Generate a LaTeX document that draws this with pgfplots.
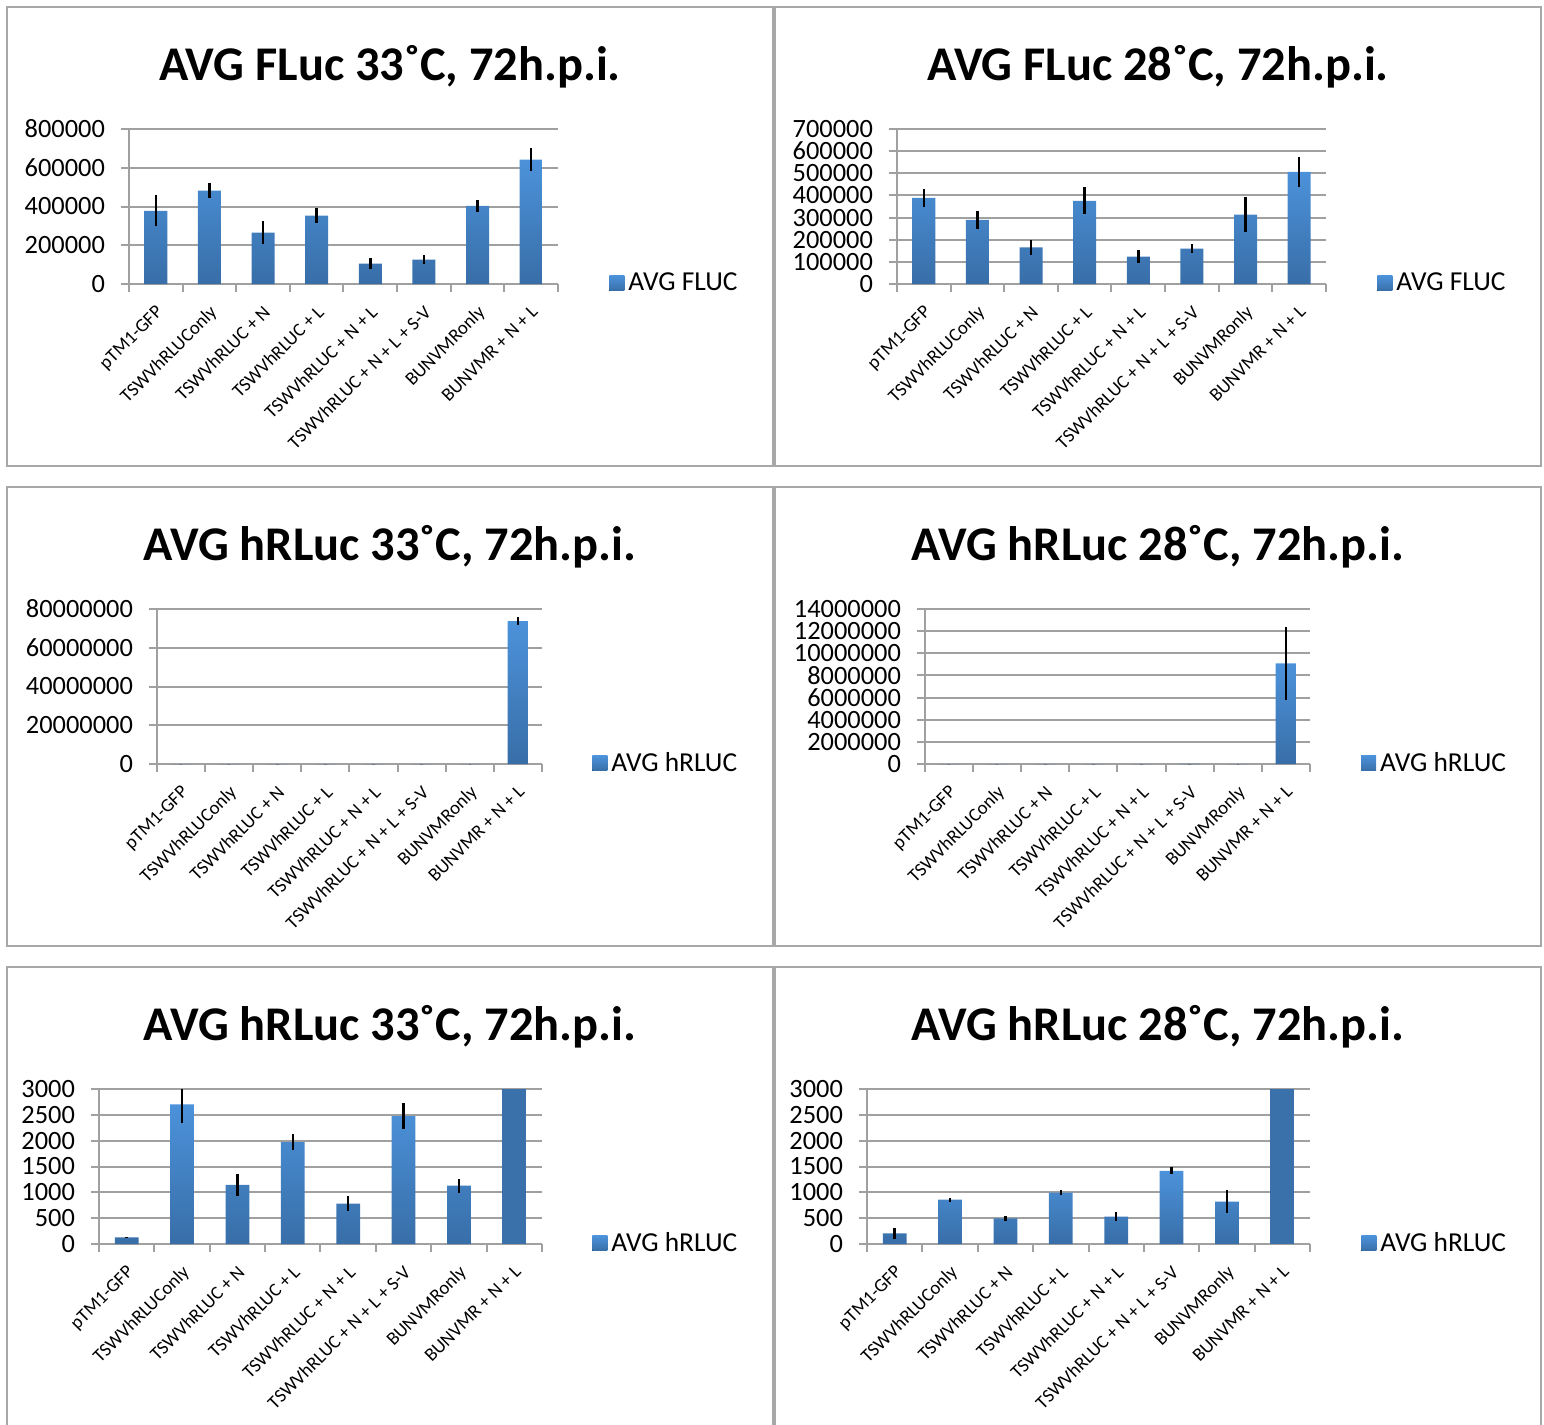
\documentclass[border=0pt]{standalone}
\usepackage{pgfplots}
\pgfplotsset{compat=1.18}
\usepackage{pgfplotstable}
\usepackage{fontspec}
\setmainfont{Carlito}
\definecolor{bartop}{RGB}{76,146,218}
\definecolor{barbot}{RGB}{56,110,168}
\definecolor{bardark}{RGB}{58,113,170}
\definecolor{gridgray}{RGB}{160,160,160}
\definecolor{boxgray}{RGB}{168,168,168}

\pgfplotstableread{
x y e
0 378000 80000
1 482000 38000
2 265000 58000
3 353000 40000
4 105000 27000
5 126000 22000
6 403000 33000
7 642000 60000
}\fA
\pgfplotstableread{
x y e
0 389000 40000
1 290000 40000
2 165000 32000
3 375000 61000
4 124000 28000
5 160000 21000
6 313000 78000
7 506000 67000
}\fB
\pgfplotstableread{
x y e
0 128 15
1 2705 360
2 1147 215
3 1974 150
4 782 150
5 2474 250
6 1128 140
7 73800000 2000000
}\rA
\pgfplotstableread{
x y e
0 205 100
1 859 40
2 494 45
3 994 50
4 532 95
5 1417 65
6 821 230
7 9100000 3300000
}\rB

\pgfplotsset{
 panel/.style={
  scale only axis,
  anchor=south west,
  xmin=-0.5, xmax=7.5, ymin=0,
  axis x line=bottom, axis y line=left,
  axis line style={-, gridgray, line width=1pt},
  x axis line style={-}, y axis line style={-},
  ymajorgrids, grid style={gridgray, line width=1pt},
  tick align=outside,
  major tick length=4pt,
  tick style={gridgray, line width=1pt},
  xtick={-0.5,0.5,1.5,2.5,3.5,4.5,5.5,6.5,7.5}, xticklabels={},
  extra x ticks={0,1,2,3,4,5,6,7},
  extra x tick labels={pTM1-GFP, TSWVhRLUConly, TSWVhRLUC + N, TSWVhRLUC + L, TSWVhRLUC + N + L, TSWVhRLUC + N + L + S-V, BUNVMRonly, BUNVMR + N + L},
  extra x tick style={major tick length=0pt, tick label style={yshift=-8.5pt, xshift=-0.5pt, rotate=45, anchor=north east, font=\fontsize{9.4}{11}\selectfont, inner sep=1pt}},
  yticklabel style={font=\fontsize{13.2}{15}\selectfont, xshift=-4.5pt},
  /pgf/number format/.cd, fixed, precision=0, 1000 sep={}, assume math mode=true, /pgfplots/.cd,
  scaled y ticks=false,
  legend style={draw=none, fill=none, inner sep=0pt, anchor=west, font=\fontsize{13.7}{15}\selectfont},
  legend cell align=left,
  legend image code/.code={\fill[top color=bartop, bottom color=barbot, draw=none] (0pt,-3.75pt) rectangle (7.5pt,3.75pt);},
 },
 barstyle/.style={ybar, bar width=0.43, bar shift=0pt, draw=none, top color=bartop, bottom color=barbot,
   error bars/.cd, y dir=both, y explicit, error mark=none, error bar style={black, line width=1.3pt}, /pgfplots/.cd},
}

\begin{document}
\begin{tikzpicture}
\path[use as bounding box] (0,0) rectangle (772pt,-712.5pt);
% panel boxes
\draw[boxgray, line width=1.2pt] (3.5pt,-3.5pt) rectangle (386.5pt,-233pt);
\draw[boxgray, line width=1.2pt] (387.5pt,-3.5pt) rectangle (770.5pt,-233pt);
\draw[boxgray, line width=1.2pt] (3.5pt,-243.5pt) rectangle (386.5pt,-473pt);
\draw[boxgray, line width=1.2pt] (387.5pt,-243.5pt) rectangle (770.5pt,-473pt);
\draw[boxgray, line width=1.2pt] (3.5pt,-483.5pt) rectangle (386.5pt,-730pt);
\draw[boxgray, line width=1.2pt] (387.5pt,-483.5pt) rectangle (770.5pt,-730pt);

% Panel 1
\begin{axis}[panel, at={(64.5pt,-142pt)}, width=214.5pt, height=77.5pt,
  ymax=800000, ytick={0,200000,400000,600000,800000},
  legend style={at={(1.119,0.005)}}]
\addplot[barstyle] table[x=x,y=y,y error=e]{\fA};
\addlegendentry{AVG FLUC}
\end{axis}

% Panel 2
\begin{axis}[panel, at={(448.5pt,-142pt)}, width=214.5pt, height=77.5pt,
  ymax=700000, ytick={0,100000,200000,300000,400000,500000,600000,700000},
  legend style={at={(1.119,0.005)}}]
\addplot[barstyle] table[x=x,y=y,y error=e]{\fB};
\addlegendentry{AVG FLUC}
\end{axis}

% Panel 3
\begin{axis}[panel, at={(78.5pt,-382pt)}, width=192.5pt, height=77.5pt,
  ymax=80000000, ytick={0,20000000,40000000,60000000,80000000},
  legend style={at={(1.130,0.005)}}]
\addplot[barstyle] table[x=x,y=y,y error=e]{\rA};
\addlegendentry{AVG hRLUC}
\end{axis}

% Panel 4
\begin{axis}[panel, at={(462.5pt,-382pt)}, width=192.5pt, height=77.5pt,
  ymax=14000000, ytick={0,2000000,4000000,6000000,8000000,10000000,12000000,14000000},
  legend style={at={(1.132,0.005)}}]
\addplot[barstyle] table[x=x,y=y,y error=e]{\rB};
\addlegendentry{AVG hRLUC}
\end{axis}

% Panel 5
\begin{axis}[panel, at={(49.5pt,-622pt)}, width=221.5pt, height=77.5pt,
  ymax=3000, ytick={0,500,1000,1500,2000,2500,3000},
  legend style={at={(1.113,0.005)}}]
\addplot[barstyle, restrict x to domain=-1:6.5] table[x=x,y=y,y error=e]{\rA};
\addlegendentry{AVG hRLUC}
\addplot[ybar, bar width=0.43, bar shift=0pt, draw=none, fill=bardark, forget plot,
  restrict x to domain=6.5:8, restrict y to domain*=0:3100] table[x=x,y=y]{\rA};
\end{axis}

% Panel 6
\begin{axis}[panel, at={(433.5pt,-622pt)}, width=221.5pt, height=77.5pt,
  ymax=3000, ytick={0,500,1000,1500,2000,2500,3000},
  legend style={at={(1.115,0.005)}}]
\addplot[barstyle, restrict x to domain=-1:6.5] table[x=x,y=y,y error=e]{\rB};
\addlegendentry{AVG hRLUC}
\addplot[ybar, bar width=0.43, bar shift=0pt, draw=none, fill=bardark, forget plot,
  restrict x to domain=6.5:8, restrict y to domain*=0:3100] table[x=x,y=y]{\rB};
\end{axis}

% titles
\begin{scope}[every node/.style={font=\bfseries\fontsize{24.2}{28}\selectfont, anchor=base}]
\node at (195pt,-40pt) {AVG FLuc 33˚C, 72h.p.i.};
\node at (579pt,-40pt) {AVG FLuc 28˚C, 72h.p.i.};
\node at (195pt,-280pt) {AVG hRLuc 33˚C, 72h.p.i.};
\node at (579pt,-280pt) {AVG hRLuc 28˚C, 72h.p.i.};
\node at (195pt,-520pt) {AVG hRLuc 33˚C, 72h.p.i.};
\node at (579pt,-520pt) {AVG hRLuc 28˚C, 72h.p.i.};
\end{scope}
\end{tikzpicture}
\end{document}
